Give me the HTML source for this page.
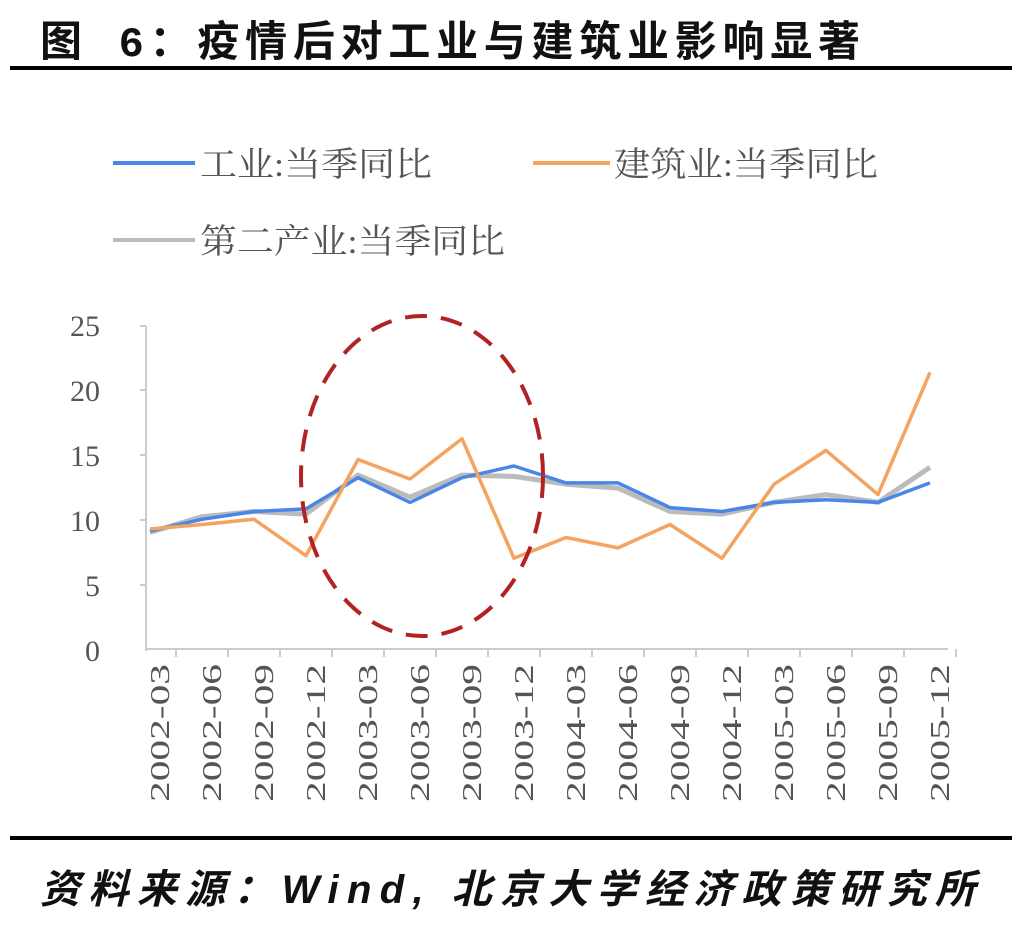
<!DOCTYPE html><html><head><meta charset="utf-8"><style>body{margin:0;background:#fff;width:1018px;height:940px;overflow:hidden}</style></head><body>
<svg width="1018" height="940" xmlns="http://www.w3.org/2000/svg" font-family="Liberation Sans, Noto Sans CJK SC, sans-serif">
<text x="40" y="56" font-size="42" font-weight="bold" fill="#111" textLength="820" lengthAdjust="spacing" font-family="Liberation Mono, Noto Sans CJK SC, sans-serif">图 6：疫情后对工业与建筑业影响显著</text>
<rect x="10" y="66" width="1002" height="4" fill="#000"/>
<rect x="10" y="836" width="1002" height="4" fill="#000"/>
<text x="40" y="903" font-size="40" font-weight="bold" font-style="italic" fill="#111" textLength="935" lengthAdjust="spacing">资料来源：Wind, 北京大学经济政策研究所</text>
<g font-size="34" fill="#555" font-family="Liberation Serif, Noto Serif CJK SC, serif">
<line x1="113" y1="163" x2="195" y2="163" stroke="#4a86e8" stroke-width="4"/><text x="200" y="176" textLength="232" lengthAdjust="spacingAndGlyphs">工业:当季同比</text>
<line x1="533" y1="163" x2="610" y2="163" stroke="#f4a460" stroke-width="4"/><text x="614" y="176" textLength="264" lengthAdjust="spacingAndGlyphs">建筑业:当季同比</text>
<line x1="113" y1="240" x2="195" y2="240" stroke="#bbb" stroke-width="4"/><text x="200" y="253" textLength="305" lengthAdjust="spacingAndGlyphs">第二产业:当季同比</text>
</g>
<g font-size="30" fill="#555" text-anchor="end" font-family="Liberation Serif, serif">
<text x="100" y="336">25</text><text x="100" y="401">20</text><text x="100" y="466">15</text><text x="100" y="531">10</text><text x="100" y="596">5</text><text x="100" y="661">0</text>
</g>
<g stroke="#ccc" stroke-width="2">
<line x1="146" y1="326" x2="146" y2="651"/><line x1="146" y1="649" x2="948" y2="649"/>
<line x1="140" y1="326" x2="146" y2="326"/><line x1="140" y1="390" x2="146" y2="390"/><line x1="140" y1="455" x2="146" y2="455"/><line x1="140" y1="520" x2="146" y2="520"/><line x1="140" y1="585" x2="146" y2="585"/>
</g>
<g id="ticks" stroke="#ccc" stroke-width="2"></g>
<g font-size="27" fill="#555" id="xl" font-family="Liberation Serif, serif"></g>
<polyline id="g" fill="none" stroke="#bbb" stroke-width="5" stroke-linejoin="round"/>
<polyline id="b" fill="none" stroke="#4a86e8" stroke-width="3.5" stroke-linejoin="round"/>
<polyline id="o" fill="none" stroke="#f4a460" stroke-width="3.5" stroke-linejoin="round"/>
<ellipse cx="422" cy="476" rx="121" ry="160" fill="none" stroke="#b22222" stroke-width="4" stroke-dasharray="22,14"/>
</svg>
<script>
const o=[9.15,9.5,9.9,7.1,14.5,13.0,16.1,6.9,8.5,7.7,9.5,6.9,12.6,15.2,11.8,21.2];
const b=[9.0,9.9,10.5,10.7,13.1,11.2,13.1,14.0,12.7,12.7,10.8,10.5,11.2,11.4,11.2,12.7];
const g=[8.9,10.1,10.5,10.3,13.3,11.6,13.3,13.2,12.6,12.3,10.5,10.3,11.2,11.8,11.2,13.9];
const X=i=>150+52*i, Y=v=>648-13*v;
const pts=a=>a.map((v,i)=>X(i)+","+Y(v)).join(" ");
document.getElementById("o").setAttribute("points",pts(o));
document.getElementById("b").setAttribute("points",pts(b));
document.getElementById("g").setAttribute("points",pts(g));
const lab=["2002-03","2002-06","2002-09","2002-12","2003-03","2003-06","2003-09","2003-12","2004-03","2004-06","2004-09","2004-12","2005-03","2005-06","2005-09","2005-12"];
const ns="http://www.w3.org/2000/svg";let xl=document.getElementById("xl"),tk=document.getElementById("ticks");
lab.forEach((s,i)=>{let t=document.createElementNS(ns,"text");let x=X(i)+19,y=802;t.setAttribute("transform","translate("+x+","+y+") rotate(-90)");t.setAttribute("textLength","138");t.setAttribute("lengthAdjust","spacingAndGlyphs");t.textContent=s;xl.appendChild(t);
let l=document.createElementNS(ns,"line");let tx=X(i)+26;l.setAttribute("x1",tx);l.setAttribute("x2",tx);l.setAttribute("y1",649);l.setAttribute("y2",657);tk.appendChild(l);});
</script>
</body></html>
